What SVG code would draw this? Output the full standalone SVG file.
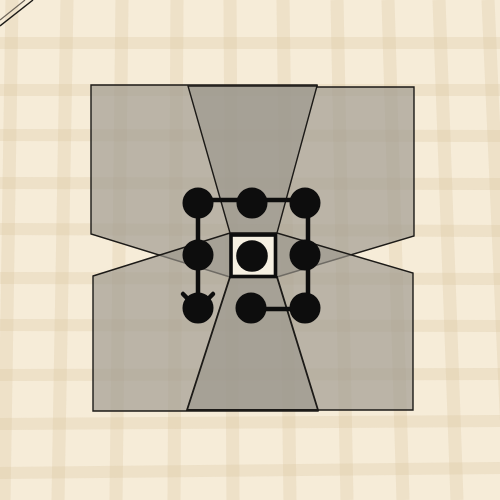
<svg xmlns="http://www.w3.org/2000/svg" width="500" height="500" viewBox="0 0 500 500">
  <style>
    .vstripe { stroke: #dcc8a2; stroke-width: 13; stroke-opacity: 0.3; }
    .hstripe { stroke: #dcc8a2; stroke-width: 12; stroke-opacity: 0.3; }
    .zone { fill: #9b978e; fill-opacity: 0.65; stroke: #1c1a17; stroke-width: 1.4; stroke-linejoin: miter; }
    .link { stroke: #0d0d0d; stroke-width: 4.5; fill: none; stroke-linecap: round; }
    .node { fill: #0d0d0d; }
  </style>
  <defs>
    <marker id="chev" markerUnits="userSpaceOnUse" orient="auto" overflow="visible" markerWidth="1" markerHeight="1" refX="0" refY="0">
      <path d="M-15,-15 L0,0 L-15,15" fill="none" stroke="#0d0d0d" stroke-width="4.5" stroke-linecap="round" stroke-linejoin="round"/>
    </marker>
  </defs>

  <!-- paper background -->
  <rect x="0" y="0" width="500" height="500" fill="#f6ecd8"/>
  <g id="plaid">
    <line class="vstripe" x1="12" y1="0" x2="4" y2="500"/>
    <line class="vstripe" x1="67" y1="0" x2="58" y2="500"/>
    <line class="vstripe" x1="122" y1="0" x2="116" y2="500"/>
    <line class="vstripe" x1="177" y1="0" x2="174" y2="500"/>
    <line class="vstripe" x1="230" y1="0" x2="233" y2="500"/>
    <line class="vstripe" x1="283" y1="0" x2="290" y2="500"/>
    <line class="vstripe" x1="337" y1="0" x2="347" y2="500"/>
    <line class="vstripe" x1="388" y1="0" x2="403" y2="500"/>
    <line class="vstripe" x1="439" y1="0" x2="457" y2="500"/>
    <line class="vstripe" x1="488" y1="0" x2="510" y2="500"/>
    <line class="hstripe" x1="0" y1="43" x2="500" y2="43"/>
    <line class="hstripe" x1="0" y1="90" x2="500" y2="90"/>
    <line class="hstripe" x1="0" y1="135" x2="500" y2="136"/>
    <line class="hstripe" x1="0" y1="183" x2="500" y2="184"/>
    <line class="hstripe" x1="0" y1="229" x2="500" y2="231"/>
    <line class="hstripe" x1="0" y1="278" x2="500" y2="279"/>
    <line class="hstripe" x1="0" y1="325" x2="500" y2="326"/>
    <line class="hstripe" x1="0" y1="375" x2="500" y2="374"/>
    <line class="hstripe" x1="0" y1="424" x2="500" y2="421"/>
    <line class="hstripe" x1="0" y1="473" x2="500" y2="468"/>
  </g>
  <g id="corner-lines">
    <line x1="0" y1="20" x2="25" y2="0" stroke="#6d655a" stroke-width="1.2"/>
    <line x1="0" y1="26" x2="33" y2="0" stroke="#1c1a17" stroke-width="1.4"/>
  </g>

  <!-- shaded zones -->
  <g id="zones">
    <polygon id="zone-upper" class="zone" points="91,85 317,85 317,87 414,87 414,236 277,277 230,277 91,234"/>
    <polygon id="zone-lower" class="zone" points="93,276 230,233 277,233 413,273 413,410 318,410 318,411 93,411"/>
    <polygon id="zone-top" class="zone" points="188,86 317,86 277,233 230,233"/>
    <polygon id="zone-bottom" class="zone" points="230,277 277,277 318,410 187,410" style="stroke-width:1.8"/>
  </g>

  <!-- connectors -->
  <g id="connectors">
    <line class="link" x1="198" y1="200" x2="252" y2="200"/>
    <line class="link" x1="252" y1="200" x2="305" y2="200"/>
    <line class="link" x1="198" y1="203" x2="198" y2="255"/>
    <line class="link" x1="198" y1="255" x2="198" y2="309" marker-end="url(#chev)"/>
    <line class="link" x1="308" y1="203" x2="308" y2="255"/>
    <line class="link" x1="308" y1="255" x2="308" y2="308"/>
    <line class="link" x1="251" y1="309" x2="305" y2="309"/>
  </g>

  <!-- nodes -->
  <g id="node-tl"><circle class="node" cx="198" cy="203" r="15.5"/></g>
  <g id="node-tm"><circle class="node" cx="252" cy="203" r="15.5"/></g>
  <g id="node-tr"><circle class="node" cx="305" cy="203" r="15.5"/></g>
  <g id="node-ml"><circle class="node" cx="198" cy="255" r="15.5"/></g>
  <g id="node-mr"><circle class="node" cx="305" cy="255" r="15.5"/></g>
  <g id="node-bl"><circle class="node" cx="198" cy="308" r="15.5"/></g>
  <g id="node-bm"><circle class="node" cx="251" cy="308" r="15.5"/></g>
  <g id="node-br"><circle class="node" cx="305" cy="308" r="15.5"/></g>
  <g id="node-center">
    <rect x="231" y="235" width="44.5" height="41.5" fill="#f6f0e2" stroke="#0d0d0d" stroke-width="3.6"/>
    <circle class="node" cx="252" cy="256" r="15.8"/>
  </g>
</svg>
